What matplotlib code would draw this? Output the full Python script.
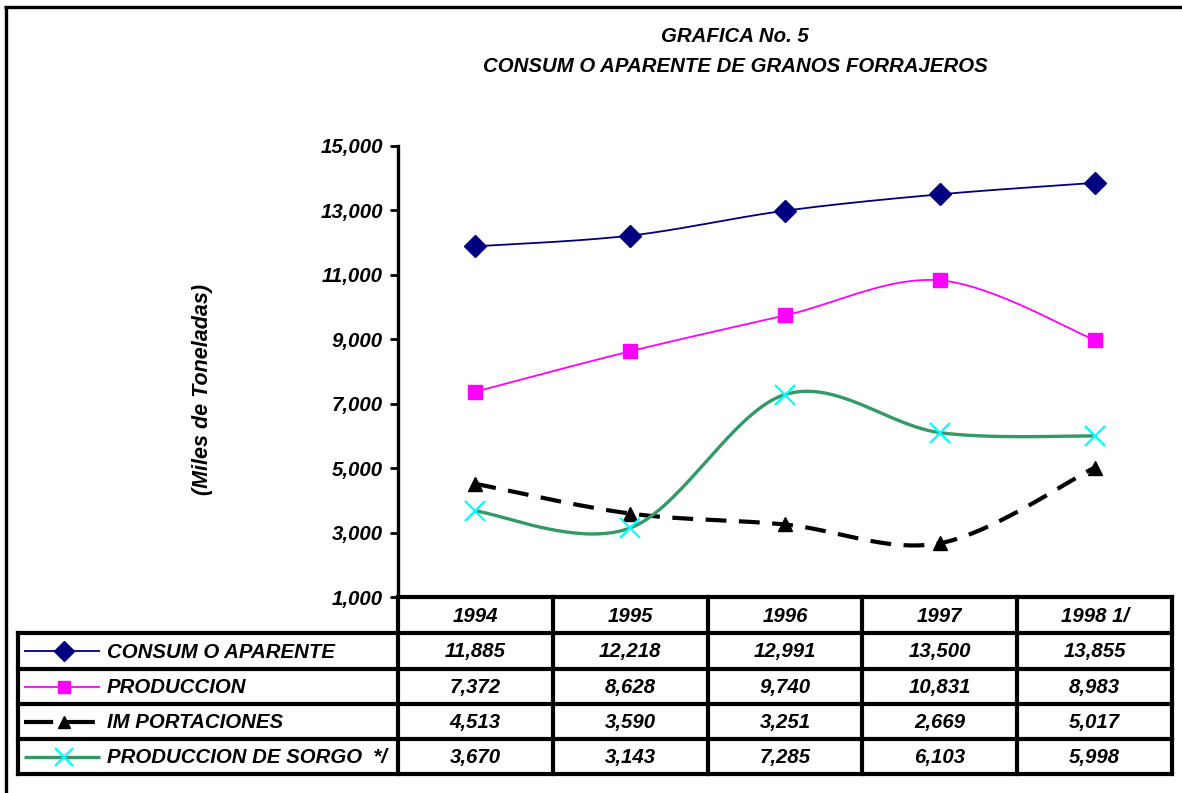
import numpy as np
import matplotlib
matplotlib.use('Agg')
import matplotlib.pyplot as plt

plt.rcParams['font.family'] = ['Liberation Sans', 'DejaVu Sans']

years = ['1994', '1995', '1996', '1997', '1998 1/']
consumo = [11885, 12218, 12991, 13500, 13855]
produccion = [7372, 8628, 9740, 10831, 8983]
importaciones = [4513, 3590, 3251, 2669, 5017]
sorgo = [3670, 3143, 7285, 6103, 5998]

series_names = ['CONSUM O APARENTE', 'PRODUCCION', 'IM PORTACIONES',
                'PRODUCCION DE SORGO  */']
series_values = [consumo, produccion, importaciones, sorgo]

# line styles per series
styles = [
    dict(color='#000080', lw=1.3, ls='-', marker='D', mfc='#000080', mec='#000080', ms=11.5, mew=1),
    dict(color='#FF00FF', lw=1.3, ls='-', marker='s', mfc='#FF00FF', mec='#FF00FF', ms=10.5, mew=1),
    dict(color='black', lw=3.0, ls=(0, (5, 3)), marker='^', mfc='black', mec='black', ms=10, mew=1),
    dict(color='#339966', lw=2.4, ls='-', marker='x', mfc='#00FFFF', mec='#00FFFF', ms=15, mew=1.6),
]


def smooth_curve(x, y, steps=40):
    # Excel-like smoothed line: cubic Bezier with Catmull-Rom control points
    p = np.column_stack([x, y]).astype(float)
    p = np.vstack([p[0], p, p[-1]])
    out = []
    for i in range(1, len(p) - 2):
        p0, p1, p2, p3 = p[i - 1], p[i], p[i + 1], p[i + 2]
        c1 = p1 + (p2 - p0) / 6.0
        c2 = p2 - (p3 - p1) / 6.0
        t = np.linspace(0, 1, steps)[:, None]
        seg = ((1 - t) ** 3) * p1 + 3 * ((1 - t) ** 2) * t * c1 + 3 * (1 - t) * t ** 2 * c2 + t ** 3 * p2
        out.append(seg if i == 1 else seg[1:])
    out = np.vstack(out)
    return out[:, 0], out[:, 1]


W, H = 1182, 793
fig = plt.figure(figsize=(W / 100, H / 100), dpi=100)
FS = 14.7

# pixel layout
plot_left, plot_right = 398, 1172
plot_top, plot_bottom = 146, 597
row_lines = [597, 633, 669, 704, 739, 774]
legend_left = 18

# overlay axes in pixel coordinates for the table and frame
ov = fig.add_axes([0, 0, 1, 1])
ov.set_xlim(0, W)
ov.set_ylim(H, 0)
ov.axis('off')

ax = fig.add_axes([plot_left / W, (H - plot_bottom) / H,
                   (plot_right - plot_left) / W, (plot_bottom - plot_top) / H])
ax.patch.set_alpha(0)

xpos = np.arange(len(years)) + 0.5
for vals, st in zip(series_values, styles):
    sx, sy = smooth_curve(xpos, vals)
    ax.plot(sx, sy, color=st['color'], lw=st['lw'], ls=st['ls'], zorder=2)
    ax.plot(xpos, vals, ls='none', marker=st['marker'], ms=st['ms'],
            mfc=st['mfc'], mec=st['mec'], mew=st['mew'], zorder=3)

ax.set_xlim(0, len(years))
ax.set_ylim(1000, 15000)
ax.set_yticks(np.arange(1000, 15001, 2000))
ax.set_yticklabels([f'{v:,}' for v in range(1000, 15001, 2000)],
                   fontsize=FS, fontweight='bold', fontstyle='italic')
ax.tick_params(axis='y', direction='out', length=6, width=2, pad=5)
ax.set_xticks([])
for s in ['top', 'right', 'bottom']:
    ax.spines[s].set_visible(False)
ax.spines['left'].set_linewidth(2.4)

ax.set_ylabel('(Miles de Toneladas)', fontsize=15.5, fontweight='bold',
              fontstyle='italic', labelpad=0)
ax.yaxis.set_label_coords(-(plot_left - 213) / (plot_right - plot_left), 0.46)

# titles
fig.text(735 / W, 1 - 37 / H, 'GRAFICA No. 5', ha='center', va='center',
         fontsize=FS, fontweight='bold', fontstyle='italic')
fig.text(735 / W, 1 - 66 / H, 'CONSUM O APARENTE DE GRANOS FORRAJEROS',
         ha='center', va='center', fontsize=FS, fontweight='bold', fontstyle='italic')

# outer frame (top and left only)
ov.plot([4, W], [7, 7], color='black', lw=2.4, solid_capstyle='butt')
ov.plot([5.5, 5.5], [6, H], color='black', lw=2.4, solid_capstyle='butt')

# data table
col_edges = np.linspace(plot_left, plot_right, len(years) + 1)
tlw = 3.0
ov.plot([plot_left, plot_right], [row_lines[0]] * 2, color='black', lw=tlw, solid_capstyle='projecting')
for y in row_lines[1:]:
    ov.plot([legend_left, plot_right], [y, y], color='black', lw=tlw, solid_capstyle='projecting')
for x in col_edges:
    ov.plot([x, x], [row_lines[0], row_lines[-1]], color='black', lw=tlw, solid_capstyle='projecting')
ov.plot([legend_left, legend_left], [row_lines[1], row_lines[-1]], color='black', lw=tlw,
        solid_capstyle='projecting')

cell_font = dict(fontsize=FS, fontweight='bold', fontstyle='italic', va='center')
for j, yr in enumerate(years):
    cx = (col_edges[j] + col_edges[j + 1]) / 2
    ov.text(cx, (row_lines[0] + row_lines[1]) / 2 + 1, yr, ha='center', **cell_font)

for i, (name, vals, st) in enumerate(zip(series_names, series_values, styles)):
    cy = (row_lines[i + 1] + row_lines[i + 2]) / 2
    ov.plot([24, 100], [cy, cy], color=st['color'], lw=st['lw'],
            ls=(0, (7, 3)) if i == 2 else '-', solid_capstyle='butt')
    ov.plot([64], [cy], marker=st['marker'], ms=st['ms'] * 0.85, ls='none',
            mfc=st['mfc'], mec=st['mec'], mew=st['mew'])
    ov.text(107, cy + 1, name, ha='left', **cell_font)
    for j, v in enumerate(vals):
        cx = (col_edges[j] + col_edges[j + 1]) / 2
        ov.text(cx, cy + 1, f'{v:,}', ha='center', **cell_font)

fig.savefig('out.png', dpi=100)
